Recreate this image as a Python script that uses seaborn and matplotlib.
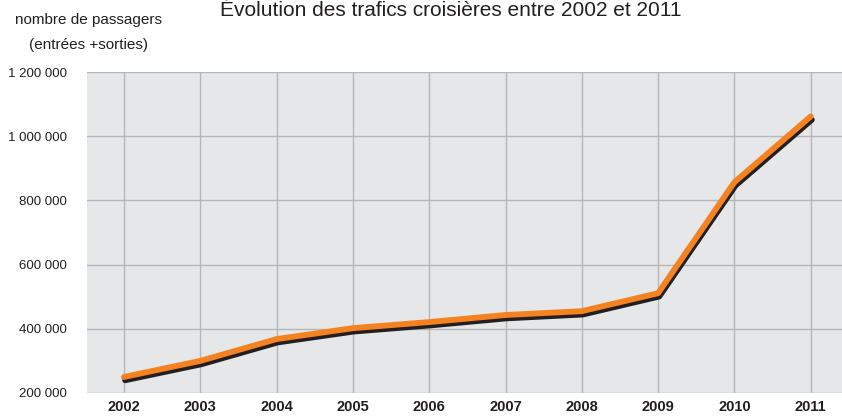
import pandas as pd
import seaborn as sns
import matplotlib.pyplot as plt
import matplotlib.patheffects as pe

years = [2002, 2003, 2004, 2005, 2006, 2007, 2008, 2009, 2010, 2011]
passagers = [250000, 300000, 368000, 402000, 421000, 443000, 455000, 511000, 857000, 1062000]
yticks = [200000, 400000, 600000, 800000, 1000000, 1200000]
ytick_labels = ["200 000", "400 000", "600 000", "800 000", "1 000 000", "1 200 000"]

df = pd.DataFrame({"annee": years, "passagers": passagers})

sns.set_style("whitegrid")
plt.rcParams["font.family"] = ["Liberation Sans", "DejaVu Sans"]

fig = plt.figure(figsize=(8.42, 4.17), dpi=100)
ax = fig.add_axes([0.1033, 0.0576, 0.8967, 0.7694])
ax.set_facecolor("#e6e7e9")

sns.lineplot(data=df, x="annee", y="passagers", ax=ax, color="#f58220", linewidth=4.2,
             solid_capstyle="round",
             path_effects=[pe.SimpleLineShadow(offset=(0.8, -2.4), shadow_color="#231f20", alpha=1.0),
                           pe.Normal()])

ax.set_xlim(2002 - 0.485, 2011 + 0.41)
ax.set_ylim(200000, 1200000)
ax.set_xticks(years)
ax.set_xticklabels([str(y) for y in years], fontweight="bold", fontsize=10.5, color="#231f20")
ax.set_yticks(yticks)
ax.set_yticklabels(ytick_labels, fontsize=9.5, color="#231f20")
ax.tick_params(axis="x", pad=5, length=0)
ax.tick_params(axis="y", pad=14.4, length=0)
ax.grid(True, color="#b5b6b8", linewidth=1.0)
for s in ax.spines.values():
    s.set_visible(False)
ax.set_xlabel("")
ax.set_ylabel("")

fig.text(0.535, 0.962, "Évolution des trafics croisières entre 2002 et 2011",
         ha="center", va="baseline", fontsize=15, color="#231f20")
fig.text(0.105, 0.952, "nombre de passagers", ha="center", va="center", fontsize=11, color="#231f20")
fig.text(0.105, 0.893, "(entrées +sorties)", ha="center", va="center", fontsize=11, color="#231f20")

plt.savefig("out.png", dpi=100)
